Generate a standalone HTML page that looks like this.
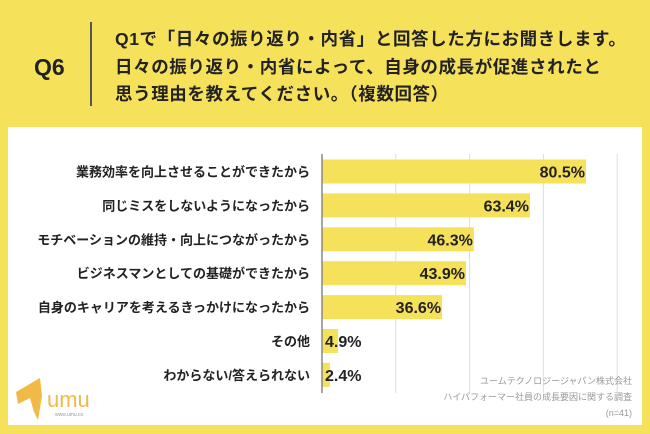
<!DOCTYPE html>
<html><head><meta charset="utf-8">
<style>
html,body{margin:0;padding:0;}
body{width:650px;height:434px;background:#f6e15b;position:relative;overflow:hidden;font-family:"Liberation Sans","Noto Sans CJK JP",sans-serif;}
.q6{position:absolute;left:34px;top:54px;font-size:23px;font-weight:bold;color:#222;}
.div{position:absolute;left:90px;top:22px;width:1.5px;height:84px;background:#555;}
.title{position:absolute;left:115px;top:26px;font-size:17.5px;font-weight:bold;color:#222;line-height:27.5px;letter-spacing:0.6px;white-space:nowrap;font-family:"Liberation Sans","Noto Sans CJK JP",sans-serif;}
.panel{position:absolute;left:8px;top:127px;width:634px;height:298px;background:#fff;}
</style></head>
<body>
<div class="q6">Q6</div>
<div class="div"></div>
<div class="title">Q1で「日々の振り返り・内省」と回答した方にお聞きします。<br>日々の振り返り・内省によって、自身の成長が促進されたと<br>思う理由を教えてください。（複数回答）</div>
<div class="panel"></div>
<svg id="chart" width="650" height="434" style="position:absolute;left:0;top:0"></svg>
<script>
const categories=["業務効率を向上させることができたから","同じミスをしないようになったから","モチベーションの維持・向上につながったから","ビジネスマンとしての基礎ができたから","自身のキャリアを考えるきっかけになったから","その他","わからない/答えられない"];
const values=[80.5,63.4,46.3,43.9,36.6,4.9,2.4];
const gridTicks=[22.5,45,67.5,90];
const NS="http://www.w3.org/2000/svg";
const svg=document.getElementById('chart');
const x0=322, pxPer=3.28, y0=171.5, step=33.9, bh=24;
const xs=v=>x0+v*pxPer;
const ys=i=>y0+i*step;
function mk(t,a){const e=document.createElementNS(NS,t);for(const k in a)e.setAttribute(k,a[k]);svg.appendChild(e);return e;}
gridTicks.forEach((t,i)=>{
  const l=mk('line',{x1:xs(t),x2:xs(t),y1:154,y2:393,stroke:'#ddd','stroke-width':1});
  
  
});
categories.forEach((c,i)=>{
  const y=ys(i);
  const r=mk('rect',{x:x0,y:y-bh/2,width:values[i]*pxPer,height:bh,fill:'#f6e15b'});
  
  
  const lb=mk('text',{x:310,y:y+5,'text-anchor':'end','font-size':13,'font-weight':'bold',fill:'#222'});
  lb.textContent=c;
  
  
  const inside=values[i]>=15;
  const vt=mk('text',{x:inside?xs(values[i])-1:x0+3,y:y+6,'text-anchor':inside?'end':'start','font-size':16,'font-weight':'bold',fill:'#222'});
  vt.textContent=values[i].toFixed(1)+'%';
  
  
});
const ax=mk('line',{x1:x0,x2:x0,y1:154,y2:393,stroke:'#888','stroke-width':1.5});


["ユームテクノロジージャパン株式会社","ハイパフォーマー社員の成長要因に関する調査","(n=41)"].forEach((t,i)=>{
  const e=mk('text',{x:632,y:384+i*16,'text-anchor':'end','font-size':9,fill:'#999'});
  e.textContent=t;
  
  
});
const g=mk('path',{d:'M16 392 L40 378 L42 396 L38 420 L34 412 L30 398 L18 404 Z',fill:'#f1b946'});


const lt=mk('text',{x:47,y:407,'font-size':22,fill:'#f1b946'});
lt.textContent='umu';


const lw=mk('text',{x:55,y:416,'font-size':5,fill:'#999'});
lw.textContent='www.umu.co';


</script>
</body></html>
